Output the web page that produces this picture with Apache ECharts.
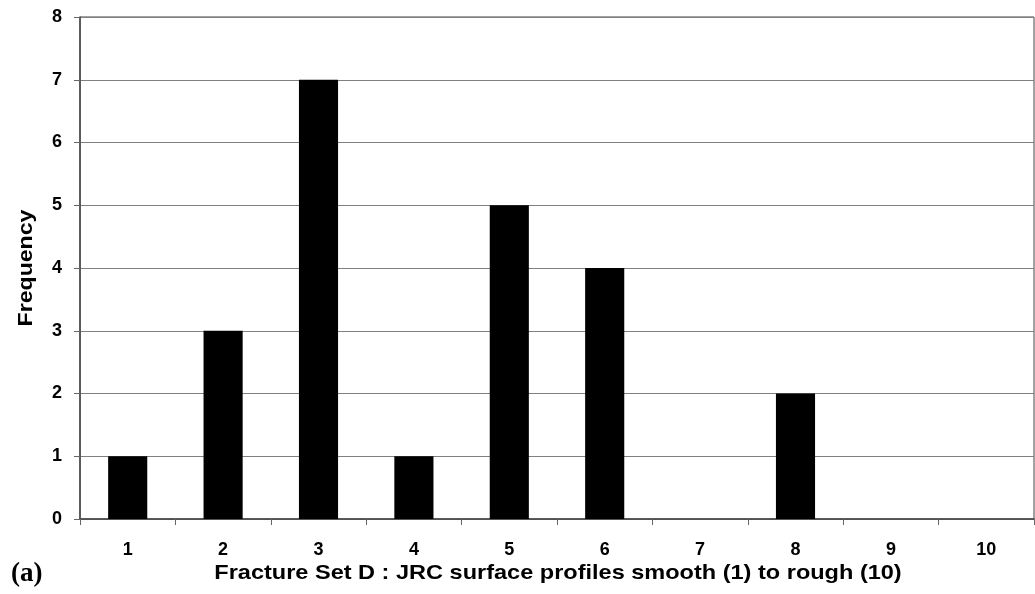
<!DOCTYPE html>
<html>
<head>
<meta charset="utf-8">
<script src="https://cdn.jsdelivr.net/npm/echarts@6/dist/echarts.min.js"></script>
<style>
html,body{margin:0;padding:0;background:#fff;}
#chart{width:1035px;height:594px;}
</style>
</head>
<body>
<div id="chart"></div>
<script>
// JRC classes (smooth 1 → rough 10) and how many profiles fall in each
const categories = ['1','2','3','4','5','6','7','8','9','10'];
const frequency = [1, 3, 7, 1, 5, 4, 0, 2, 0, 0];
const yTicks = [0, 1, 2, 3, 4, 5, 6, 7, 8];
const xTitle = 'Fracture Set D : JRC surface profiles smooth (1) to rough (10)';
const yTitle = 'Frequency';

const chart = echarts.init(document.getElementById('chart'));
const font = 'Arial, "Liberation Sans", sans-serif';

chart.setOption({
  animation: false,
  backgroundColor: '#fff',
  grid: { left: 80, right: 1, top: 17, bottom: 75, containLabel: false,
          show: true, borderColor: '#444', borderWidth: 1 },
  xAxis: {
    type: 'category',
    data: categories,
    axisLine: { lineStyle: { color: '#444', width: 1.5 } },
    axisTick: { show: true, length: 6, lineStyle: { color: '#666' } },
    axisLabel: { fontFamily: font, fontWeight: 'bold', fontSize: 18, color: '#000', margin: 22 },
    splitLine: { show: false }
  },
  yAxis: {
    type: 'value',
    min: yTicks[0],
    max: yTicks[yTicks.length - 1],
    interval: 1,
    axisLine: { show: true, lineStyle: { color: '#444', width: 1.5 } },
    axisTick: { show: true, length: 6, lineStyle: { color: '#666' } },
    axisLabel: { fontFamily: font, fontWeight: 'bold', fontSize: 18, color: '#000', margin: 18 },
    splitLine: { show: true, lineStyle: { color: '#808080', width: 1 } }
  },
  series: [{
    type: 'bar',
    data: frequency,
    barWidth: '41%',
    itemStyle: { color: '#000', borderWidth: 0 }
  }],
  graphic: [
    {
      // horizontal axis title, set slightly wide
      type: 'text',
      x: 558, y: 573,
      scaleX: 1.12,
      style: { text: xTitle, fontFamily: font, fontWeight: 'bold', fontSize: 21,
               fill: '#000', align: 'center', verticalAlign: 'middle' }
    },
    {
      // vertical axis title
      type: 'text',
      x: 26, y: 268,
      rotation: Math.PI / 2,
      scaleX: 1.1,
      style: { text: yTitle, fontFamily: font, fontWeight: 'bold', fontSize: 21,
               fill: '#000', align: 'center', verticalAlign: 'middle' }
    },
    {
      type: 'text',
      left: 11,
      top: 561,
      style: { text: '(a)', fontFamily: '"Liberation Serif", "Times New Roman", serif',
               fontWeight: 'bold', fontSize: 27, fill: '#000' }
    }
  ]
});
</script>
</body>
</html>
